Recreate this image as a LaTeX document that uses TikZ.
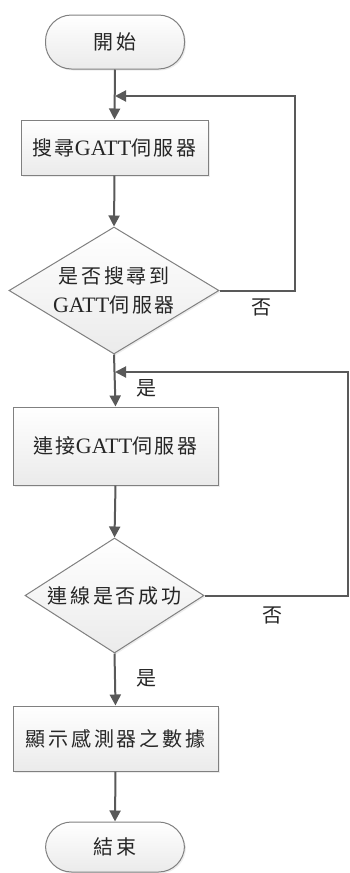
\documentclass[tikz,border=0pt]{standalone}
\usepackage{fontspec}
\usetikzlibrary{shapes.geometric,arrows.meta,shadows}
\newfontfamily\cjk[LetterSpace=14]{Noto Sans CJK TC}
\newfontfamily\lat{Liberation Serif}
\newcommand{\GT}{{\lat\fontsize{22pt}{29pt}\selectfont GATT}}
\definecolor{ln}{HTML}{595959}
\definecolor{bd}{HTML}{808080}
\tikzset{
  every node/.style={font=\cjk\fontsize{20pt}{29pt}\selectfont, text=black!85},
  boxs/.style={draw=bd, line width=1pt, top color=white, bottom color=black!8, inner sep=0pt,
     drop shadow={shadow xshift=1.5pt, shadow yshift=-1.5pt, opacity=0.15}},
  term/.style={boxs, rounded corners=26pt},
  dia/.style={boxs, diamond, inner sep=0pt},
  conn/.style={draw=ln, line width=2pt, -{Triangle[length=11pt,width=11pt]}},
  lbl/.style={inner sep=0pt}
}
\begin{document}
\begin{tikzpicture}[x=1pt,y=-1pt]
\useasboundingbox (0,0) rectangle (349,873);
\node[term, minimum width=139pt, minimum height=54pt] (start) at (115,42) {開始};
\node[boxs, minimum width=187pt, minimum height=55pt] (b1) at (114.5,147.5) {搜尋\GT 伺服器};
\node[dia, minimum width=210pt, minimum height=127pt] (d1) at (114,290.5) {};
\node[lbl, align=center] (d1t) at (d1) {是否搜尋到\\\GT 伺服器};
\node[boxs, minimum width=205pt, minimum height=78pt] (b2) at (115.5,446) {連接\GT 伺服器};
\node[dia, minimum width=179pt, minimum height=115pt] (d2) at (114.5,595.5) {};
\node[lbl] (d2t) at (d2) {連線是否成功};
\node[boxs, minimum width=205pt, minimum height=65pt] (b3) at (115.5,738.5) {顯示感測器之數據};
\node[term, minimum width=139pt, minimum height=50pt] (end) at (115,847) {結束};

\coordinate (j1) at (115,96);
\coordinate (j2) at (115,372);
\coordinate (r1a) at (295,290.5);
\coordinate (r1b) at (295,96);
\coordinate (r2a) at (348,595.5);
\coordinate (r2b) at (348,372);

\draw[conn] (start.south) -- (b1.north);
\draw[conn] (b1.south) -- (d1.north);
\draw[conn] (d1.south) -- (b2.north);
\draw[conn] (b2.south) -- (d2.north);
\draw[conn] (d2.south) -- (b3.north);
\draw[conn] (b3.south) -- (end.north);
\draw[conn] (d1.east) -- (r1a) -- (r1b) -- (j1);
\draw[conn] (d2.east) -- (r2a) -- (r2b) -- (j2);

\node[lbl] (n1) at (261,307) {否};
\node[lbl] (n2) at (272,615) {否};
\node[lbl] (y1) at (146,388) {是};
\node[lbl] (y2) at (146,678) {是};
\end{tikzpicture}
\end{document}
